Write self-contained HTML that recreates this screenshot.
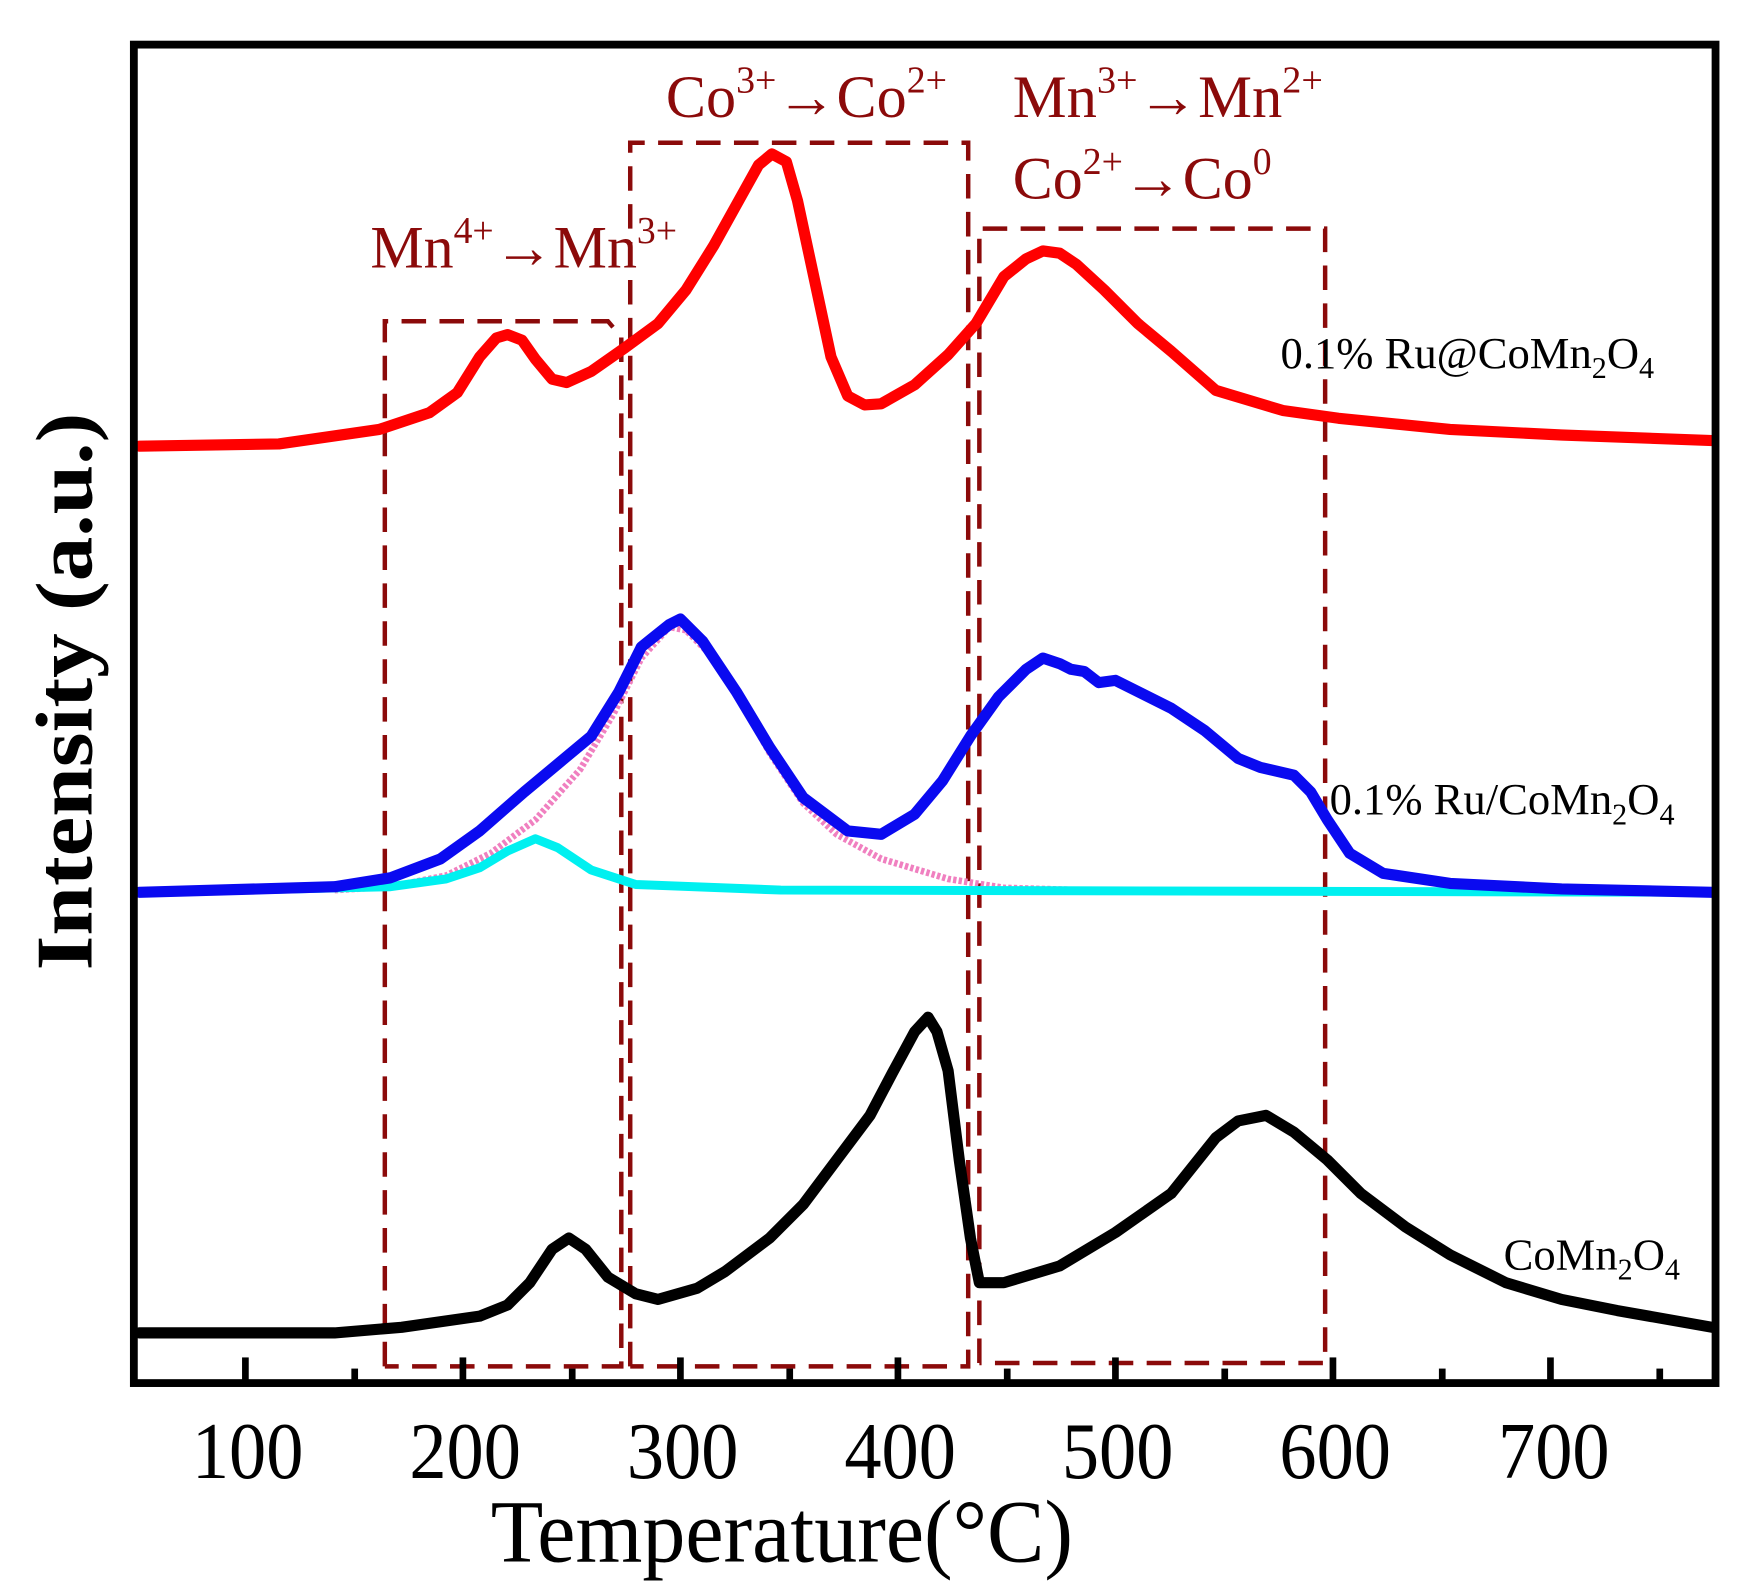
<!DOCTYPE html>
<html><head><meta charset="utf-8"><style>
html,body{margin:0;padding:0;background:#fff;}
svg{display:block;}
text{font-family:"Liberation Serif",serif;}
</style></head><body>
<svg width="1749" height="1595" viewBox="0 0 1568 1430" preserveAspectRatio="none" xmlns="http://www.w3.org/2000/svg">
<rect width="1568" height="1430" fill="#fff"/>
<g fill="none" stroke="#8b0a0a" stroke-width="4" stroke-dasharray="22,12">
<path d="M345,1225 V288 H545 L557,302 V1225 H345"/>
<path d="M565,1225 V128 H868 V1225 H565"/>
<path d="M878,1222 V205 H1188 V1222 H878"/>
</g>
<polyline fill="none" stroke="#f080c0" stroke-width="6" stroke-dasharray="3,2" stroke-linejoin="round" points="300,798 350,795 400,785 440,765 480,735 520,690 550,640 575,590 600,562 615,565 640,590 665,630 690,675 720,720 750,748 790,770 850,788 900,796 1000,799 1535,800"/>
<polyline fill="none" stroke="#00f0f0" stroke-width="8" stroke-linejoin="round" stroke-linecap="round" points="125,800 350,795 400,788 430,778 455,763 480,752 500,760 530,780 570,793 700,798 1535,800"/>
<polyline fill="none" stroke="#0a0af0" stroke-width="10" stroke-linejoin="round" stroke-linecap="round" points="125,800 300,795 350,787 395,770 430,745 470,710 500,685 530,660 555,620 575,580 600,560 610,555 630,575 660,620 690,670 720,715 760,745 790,748 820,730 845,700 870,660 895,625 920,600 935,590 950,595 960,600 972,602 985,612 1000,610 1020,620 1050,635 1080,655 1110,680 1130,688 1160,695 1175,710 1190,735 1210,765 1240,783 1300,792 1400,797 1535,800"/>
<polyline fill="none" stroke="#ff0000" stroke-width="10" stroke-linejoin="round" stroke-linecap="round" points="125,400 250,398 340,385 385,370 410,352 430,320 445,303 455,300 468,305 480,322 495,340 508,343 530,333 560,312 590,290 615,260 640,220 665,175 680,148 692,138 705,145 715,180 730,250 745,320 760,355 775,363 790,362 820,345 850,318 875,290 900,248 920,232 935,225 950,227 965,237 990,260 1020,290 1050,315 1090,350 1150,368 1200,375 1300,385 1400,390 1535,395"/>
<polyline fill="none" stroke="#000" stroke-width="10" stroke-linejoin="round" stroke-linecap="round" points="125,1195 300,1195 360,1190 430,1180 455,1170 475,1150 495,1120 510,1110 525,1120 545,1145 570,1160 590,1165 625,1155 650,1140 690,1110 720,1080 750,1040 780,1000 800,962 820,925 832,912 840,925 850,960 860,1040 870,1110 878,1150 900,1150 950,1135 1000,1105 1050,1070 1090,1020 1110,1005 1135,1000 1160,1015 1190,1040 1220,1070 1260,1100 1300,1125 1350,1150 1400,1165 1450,1175 1535,1190"/>
<rect x="120" y="40" width="1418" height="1200" fill="none" stroke="#000" stroke-width="7"/>
<g stroke="#000" stroke-width="6">
<line x1="220" y1="1237" x2="220" y2="1217"/><line x1="415" y1="1237" x2="415" y2="1217"/><line x1="610" y1="1237" x2="610" y2="1217"/><line x1="805" y1="1237" x2="805" y2="1217"/><line x1="1000" y1="1237" x2="1000" y2="1217"/><line x1="1195" y1="1237" x2="1195" y2="1217"/><line x1="1390" y1="1237" x2="1390" y2="1217"/>
<line x1="318" y1="1237" x2="318" y2="1227"/><line x1="513" y1="1237" x2="513" y2="1227"/><line x1="708" y1="1237" x2="708" y2="1227"/><line x1="903" y1="1237" x2="903" y2="1227"/><line x1="1098" y1="1237" x2="1098" y2="1227"/><line x1="1293" y1="1237" x2="1293" y2="1227"/><line x1="1488" y1="1237" x2="1488" y2="1227"/>
</g>
<g font-size="72" text-anchor="middle" fill="#000">
<text x="222" y="1325" textLength="100" lengthAdjust="spacingAndGlyphs">100</text>
<text x="417" y="1325" textLength="100" lengthAdjust="spacingAndGlyphs">200</text>
<text x="612" y="1325" textLength="100" lengthAdjust="spacingAndGlyphs">300</text>
<text x="807" y="1325" textLength="100" lengthAdjust="spacingAndGlyphs">400</text>
<text x="1002" y="1325" textLength="100" lengthAdjust="spacingAndGlyphs">500</text>
<text x="1197" y="1325" textLength="100" lengthAdjust="spacingAndGlyphs">600</text>
<text x="1393" y="1325" textLength="100" lengthAdjust="spacingAndGlyphs">700</text>
</g>
<text x="440" y="1400" font-size="80" textLength="522" lengthAdjust="spacingAndGlyphs">Temperature(°C)</text>
<text transform="translate(82,620) rotate(-90)" font-size="72" font-weight="bold" text-anchor="middle" textLength="500" lengthAdjust="spacingAndGlyphs">Intensity (a.u.)</text>
<g fill="#8b0a0a" font-size="54">
<text x="332" y="240" textLength="275" lengthAdjust="spacingAndGlyphs">Mn<tspan dy="-22" font-size="34">4+</tspan><tspan dy="22">→Mn</tspan><tspan dy="-22" font-size="34">3+</tspan></text>
<text x="597" y="105" textLength="252" lengthAdjust="spacingAndGlyphs">Co<tspan dy="-22" font-size="34">3+</tspan><tspan dy="22">→Co</tspan><tspan dy="-22" font-size="34">2+</tspan></text>
<text x="908" y="105" textLength="278" lengthAdjust="spacingAndGlyphs">Mn<tspan dy="-22" font-size="34">3+</tspan><tspan dy="22">→Mn</tspan><tspan dy="-22" font-size="34">2+</tspan></text>
<text x="908" y="178" textLength="232" lengthAdjust="spacingAndGlyphs">Co<tspan dy="-22" font-size="34">2+</tspan><tspan dy="22">→Co</tspan><tspan dy="-22" font-size="34">0</tspan></text>
</g>
<g fill="#000" font-size="40">
<text x="1148" y="330">0.1% Ru@CoMn<tspan dy="9" font-size="27">2</tspan><tspan dy="-9">O</tspan><tspan dy="9" font-size="27">4</tspan></text>
<text x="1192" y="730">0.1% Ru/CoMn<tspan dy="9" font-size="27">2</tspan><tspan dy="-9">O</tspan><tspan dy="9" font-size="27">4</tspan></text>
<text x="1348" y="1138">CoMn<tspan dy="9" font-size="27">2</tspan><tspan dy="-9">O</tspan><tspan dy="9" font-size="27">4</tspan></text>
</g>
</svg>
</body></html>
